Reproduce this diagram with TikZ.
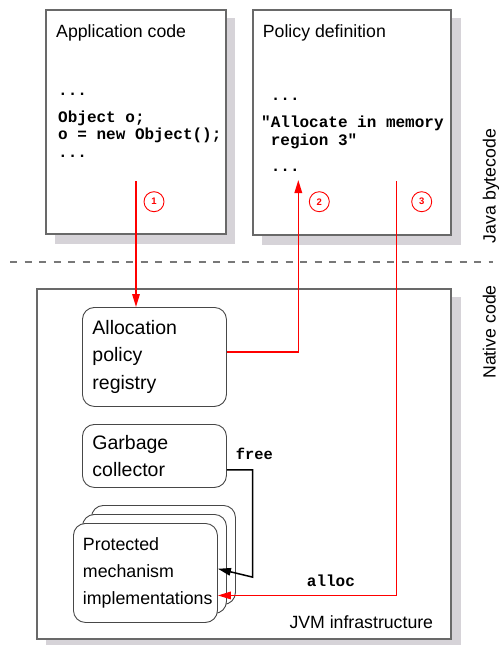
\documentclass[tikz,border=0pt]{standalone}
\usepackage{fontspec}
\setmainfont{Liberation Sans}
\newfontfamily\codefont{Liberation Mono}
\usetikzlibrary{arrows.meta,calc}

\definecolor{shade}{RGB}{214,211,216}
\definecolor{frame}{RGB}{105,105,105}
\definecolor{flow}{RGB}{255,0,0}

\tikzset{
  panel/.style={draw=frame, line width=1.2pt, fill=white},
  drop/.style={fill=shade, draw=none},
  rbox/.style={draw=black!72, line width=0.9pt, rounded corners=12pt, fill=white,
    anchor=north west, align=left, inner ysep=0pt},
  title/.style={anchor=base west, inner sep=0pt, font=\fontsize{17.7pt}{21pt}\selectfont},
  code/.style={anchor=base west, inner sep=0pt, font=\codefont\bfseries\fontsize{16pt}{18pt}\selectfont},
  marker/.style={circle, draw=flow, line width=0.9pt, minimum size=20pt, inner sep=0pt,
    text=flow, font=\bfseries\fontsize{9.5pt}{10pt}\selectfont},
  redline/.style={draw=flow, line width=1.5pt},
  redarrow/.style={redline, -{Triangle[length=13pt,width=7.5pt]}},
  blackarrow/.style={draw=black, line width=1.5pt, -{Triangle[length=13pt,width=7.5pt]}},
  sidelabel/.style={rotate=90, anchor=base, inner sep=0pt, font=\fontsize{17.7pt}{21pt}\selectfont},
}

\begin{document}
\begin{tikzpicture}[x=1pt, y=-1pt]
\useasboundingbox (0,0) rectangle (498,645);
\fill[white] (0,0) rectangle (498,645);

% --- bytecode layer: two documents with drop shadows
\fill[drop] (55,18) rectangle (235,244);
\draw[panel] (46,10) rectangle (226,234);
\fill[drop] (262,18) rectangle (461,245);
\draw[panel] (253,10) rectangle (451,235);

\node[title] (apptitle) at (56,37) {Application code};
\node[code] (app1) at (58,95) {...};
\node[code] (app2) at (58,122) {Object o;};
\node[code] (app3) at (58,139.5) {o = new Object();};
\node[code] (app4) at (58,157) {...};

\node[title] (poltitle) at (262.7,37) {Policy definition};
\node[code] (pol1) at (261,100) {\hphantom{x}...};
\node[code] (pol2) at (261,127.7) {"Allocate in memory};
\node[code] (pol3) at (261,145) {\hphantom{x}region 3"};
\node[code] (pol4) at (261,171.7) {\hphantom{x}...};

\node[sidelabel] (javalbl) at (495.5,186) {Java bytecode};
\node[sidelabel] (nativelbl) at (495.5,332) {Native code};

% --- boundary between bytecode and native code
\coordinate (sepL) at (10,262);
\coordinate (sepR) at (493,262);
\draw[draw=frame!90, line width=1.3pt, dash pattern=on 7pt off 7.5pt] (sepL) -- (sepR);

% --- JVM infrastructure
\fill[drop] (46,297) rectangle (461,650);
\draw[panel] (37,289) rectangle (451,639);
\node[anchor=base west, inner sep=0pt, font=\fontsize{17.7pt}{21pt}\selectfont] (jvmlbl) at (289.3,628.3) {JVM infrastructure};

\node[rbox, minimum width=144pt, minimum height=99pt, inner xsep=10pt, text width=124pt,
      font=\fontsize{19.5pt}{27.4pt}\selectfont] (alloc) at (82,307)
      {Allocation\\policy\\registry};
\node[rbox, minimum width=144pt, minimum height=63pt, inner xsep=10pt, text width=124pt,
      font=\fontsize{19.5pt}{26.6pt}\selectfont] (gc) at (82,424)
      {Garbage\\collector};

% stack of mechanism implementations
\node[rbox, minimum width=144pt, minimum height=99pt] (pm3) at (91,505) {};
\node[rbox, minimum width=144pt, minimum height=99pt] (pm2) at (82,514) {};
\node[rbox, minimum width=144pt, minimum height=99pt, inner xsep=9.5pt, text width=125pt,
      font=\fontsize{17.8pt}{26.8pt}\selectfont] (prot) at (73,523)
      {Protected\\mechanism\\implementations};

% --- flows
\coordinate (s1) at (136,181);
\coordinate (t2) at (298.3,180);
\coordinate (s3) at (396.7,181);
\coordinate (gcx) at (252.7,0);

\draw[redarrow] (s1) -- (s1 |- alloc.north);
\draw[redarrow] ([yshift=5pt]alloc.east) -| (t2);
\draw[redarrow] (s3) |- ([yshift=-22.5pt]prot.east);
\draw[blackarrow] ([yshift=-13.8pt]gc.east) -| ($(gcx |- prot.east)+(0,-4.2pt)$) -- ([yshift=4.2pt]prot.east);

\node[marker] (m1) at (154,201.7) {1};
\node[marker] (m2) at (319.3,201.7) {2};
\node[marker] (m3) at (421.7,201.7) {3};

\node[anchor=base west, inner sep=0pt, font=\codefont\bfseries\fontsize{15.4pt}{18pt}\selectfont] (freelbl) at (235.7,459.3) {free};
\node[anchor=base west, inner sep=0pt, font=\codefont\bfseries\fontsize{16pt}{18pt}\selectfont] (alloclbl) at (306.7,586) {alloc};
\end{tikzpicture}
\end{document}
